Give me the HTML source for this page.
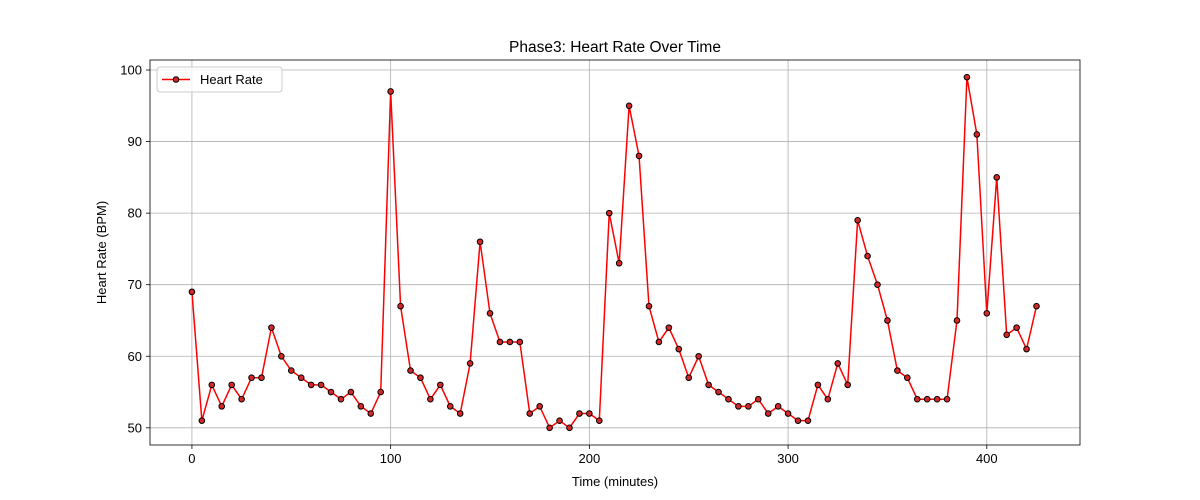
<!DOCTYPE html>
<html><head><meta charset="utf-8"><style>
body{margin:0;background:#fff;}
svg{display:block;font-family:"Liberation Sans","DejaVu Sans",sans-serif;}
</style></head><body>
<svg id="chart" width="1200" height="500"></svg>
<script>
const times=[0,5,10,15,20,25,30,35,40,45,50,55,60,65,70,75,80,85,90,95,100,105,110,115,120,125,130,135,140,145,150,155,160,165,170,175,180,185,190,195,200,205,210,215,220,225,230,235,240,245,250,255,260,265,270,275,280,285,290,295,300,305,310,315,320,325,330,335,340,345,350,355,360,365,370,375,380,385,390,395,400,405,410,415,420,425];
const heartRate=[69,51,56,53,56,54,57,57,64,60,58,57,56,56,55,54,55,53,52,55,97,67,58,57,54,56,53,52,59,76,66,62,62,62,52,53,50,51,50,52,52,51,80,73,95,88,67,62,64,61,57,60,56,55,54,53,53,54,52,53,52,51,51,56,54,59,56,79,74,70,65,58,57,54,54,54,54,65,99,91,66,85,63,64,61,67];
const xTicks=[0,100,200,300,400];
const yTicks=[50,60,70,80,90,100];
const L=150,R=1080,T=60,B=445;
const xMin=-21.1,xMax=446.9,yMin=47.6,yMax=101.4;
const sx=v=>L+(v-xMin)/(xMax-xMin)*(R-L);
const sy=v=>B-(v-yMin)/(yMax-yMin)*(B-T);
const svg=document.getElementById('chart');
const NS='http://www.w3.org/2000/svg';
function mk(tag,attrs,parent){const e=document.createElementNS(NS,tag);for(const k in attrs)e.setAttribute(k,attrs[k]);(parent||svg).appendChild(e);return e;}
function txt(s,attrs){const e=mk('text',attrs);e.textContent=s;return e;}
// grid
xTicks.forEach(t=>{const g=mk('line',{x1:sx(t),x2:sx(t),y1:T,y2:B,stroke:'#b0b0b0','stroke-width':0.8});


const tk=mk('line',{x1:sx(t),x2:sx(t),y1:B,y2:B+4,stroke:'#000','stroke-width':0.8});


const l=txt(t,{x:sx(t),y:B+18,'text-anchor':'middle','font-size':13});

});
yTicks.forEach(t=>{const g=mk('line',{x1:L,x2:R,y1:sy(t),y2:sy(t),stroke:'#b0b0b0','stroke-width':0.8});


const tk=mk('line',{x1:L-4,x2:L,y1:sy(t),y2:sy(t),stroke:'#000','stroke-width':0.8});


const l=txt(t,{x:L-8,y:sy(t)+4.5,'text-anchor':'end','font-size':13});

});
const frame=mk('rect',{x:L,y:T,width:R-L,height:B-T,fill:'none',stroke:'#000','stroke-width':0.8});


const line=mk('polyline',{points:times.map((t,i)=>sx(t)+','+sy(heartRate[i])).join(' '),fill:'none',stroke:'#ff0000','stroke-width':1.5});


times.forEach((t,i)=>{const c=mk('circle',{cx:sx(t),cy:sy(heartRate[i]),r:2.8,fill:'#d62728',stroke:'#000','stroke-width':1});

});
const title=txt('Phase3: Heart Rate Over Time',{x:(L+R)/2,y:52,'text-anchor':'middle','font-size':15.5});


const xt=txt('Time (minutes)',{x:(L+R)/2,y:486,'text-anchor':'middle','font-size':13});


const yt=txt('Heart Rate (BPM)',{x:0,y:0,'text-anchor':'middle','font-size':13,transform:`translate(106,${(T+B)/2}) rotate(-90)`});


const lg=mk('g',{});


mk('rect',{x:157,y:67,width:125,height:25,rx:3,fill:'#fff','fill-opacity':0.8,stroke:'#ccc'},lg);
mk('line',{x1:162,x2:190,y1:79.5,y2:79.5,stroke:'#ff0000','stroke-width':1.5},lg);
mk('circle',{cx:176,cy:79.5,r:2.8,fill:'#d62728',stroke:'#000','stroke-width':1},lg);
const lt=mk('text',{x:200,y:84,'font-size':13},lg);lt.textContent='Heart Rate';


</script>
</body></html>
